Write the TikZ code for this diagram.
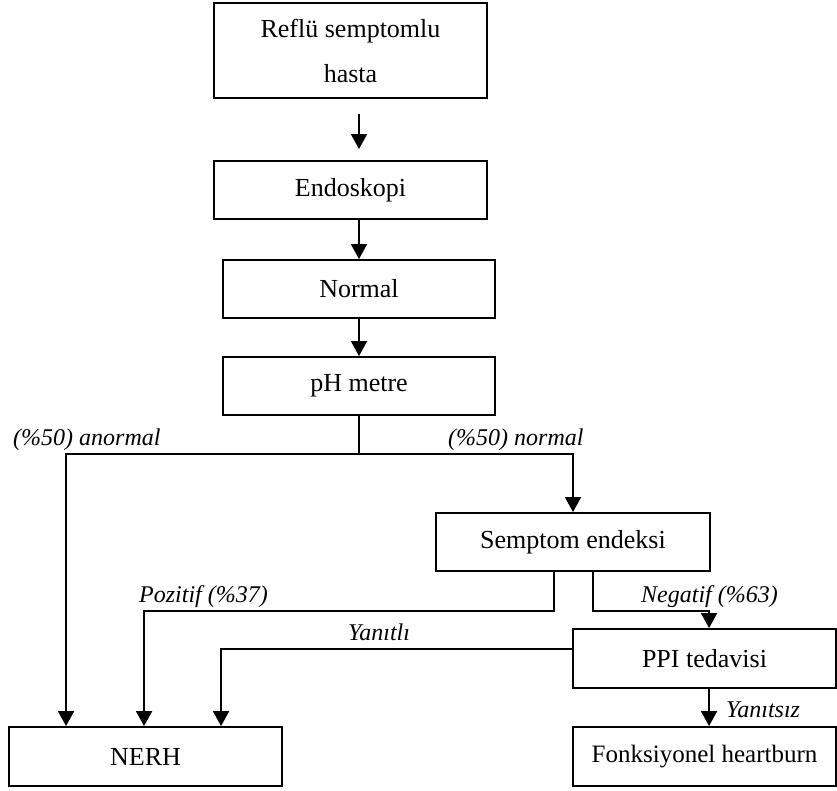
\documentclass[tikz,border=0pt]{standalone}
\usepackage{fontspec}
\setmainfont{Liberation Serif}
\usepackage{tikz}
\usetikzlibrary{arrows.meta,positioning,calc}

\begin{document}
\begin{tikzpicture}[
  x=1pt, y=-1pt,
  box/.style={draw=black, line width=1.9pt, align=center, inner sep=0pt, font=\fontsize{26}{45}\selectfont},
  lbl/.style={font=\fontsize{24}{30}\selectfont\itshape, anchor=base west, inner sep=0pt},
  arr/.style={-{Triangle[length=15pt,width=16pt]}, line width=1.9pt},
  conn/.style={line width=1.9pt}
]
  \useasboundingbox (0,0) rectangle (837,790);
  \node[box, minimum width=273pt, minimum height=95pt] (reflu) at (350.5,50.5) {Reflü semptomlu\\hasta};
  \node[box, minimum width=273pt, minimum height=58pt] (endo) at (350.5,190) {Endoskopi};
  \node[box, minimum width=272pt, minimum height=58pt] (normal) at (359,289) {Normal};
  \node[box, minimum width=272pt, minimum height=58pt] (ph) at (359,386) {pH metre};
  \node[box, minimum width=274pt, minimum height=58pt] (semptom) at (573,542) {Semptom endeksi};
  \node[box, minimum width=263pt, minimum height=59pt] (ppi) at (704.5,658.5) {PPI tedavisi};
  \node[box, minimum width=273pt, minimum height=59pt] (nerh) at (145.5,756.5) {NERH};
  \node[box, minimum width=263pt, minimum height=59pt, font=\fontsize{25}{30}\selectfont] (fonk) at (704.5,756.5) {Fonksiyonel heartburn};

  % main column
  \draw[arr] ($(reflu.south -| ph.north)+(0,15)$) -- ($(endo.north -| ph.north)+(0,-11)$);
  \draw[arr] (endo.south -| ph.north) -- (normal.north -| ph.north);
  \draw[arr] (normal) -- (ph);

  % pH split
  \draw[conn] (ph.south) -- ++(0,38) coordinate (split);
  \draw[arr] (split) -| ([xshift=58pt]nerh.north west);
  \draw[arr] (split) -| (semptom.north);
  \node[lbl] (anormal) at (13,445) {(\%50) anormal};
  \node[lbl] (normallbl) at (448,445) {(\%50) normal};

  % symptom index
  \draw[arr] ([xshift=-19pt]semptom.south) -- ++(0,39) -| ([xshift=136pt]nerh.north west);
  \draw[arr] ([xshift=20pt]semptom.south) -- ++(0,39) -| ([xshift=137pt]ppi.north west);
  \node[lbl] (pozitif) at (139,602) {Pozitif (\%37)};
  \node[lbl] (negatif) at (641,602) {Negatif (\%63)};

  % PPI response
  \draw[arr] ([yshift=9.5pt]ppi.west) -| ([xshift=213pt]nerh.north west);
  \draw[arr] ([xshift=137pt]ppi.south west) -- ([xshift=137pt]fonk.north west);
  \node[lbl] (yanitli) at (348,640) {Yanıtlı};
  \node[lbl] (yanitsiz) at (726,717) {Yanıtsız};
\end{tikzpicture}
\end{document}
